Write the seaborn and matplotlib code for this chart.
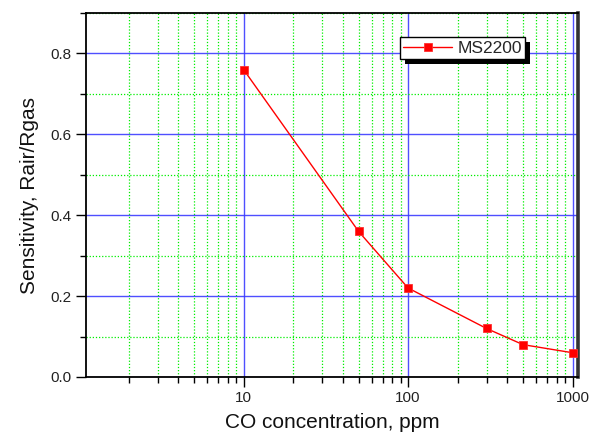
import matplotlib
matplotlib.use("Agg")
import matplotlib.pyplot as plt
import matplotlib.ticker as mticker
from matplotlib.patches import Rectangle
import seaborn as sns
import pandas as pd

concentration = [10, 50, 100, 300, 500, 1000]
sensitivity = [0.76, 0.36, 0.22, 0.12, 0.08, 0.06]
series_name = "MS2200"
x_label = "CO concentration, ppm"
y_label = "Sensitivity, Rair/Rgas"
y_ticks = [0.0, 0.2, 0.4, 0.6, 0.8]

df = pd.DataFrame({"x": concentration, "y": sensitivity, "series": series_name})

sns.set_style("white")
plt.rcParams["font.family"] = ["Liberation Sans", "DejaVu Sans"]

fig = plt.figure(figsize=(5.9, 4.37), dpi=100)
fig.subplots_adjust(left=86/590, right=578/590, top=1-13/437, bottom=1-377/437)
ax = fig.add_subplot(111)

ax.set_xscale("log")
sns.lineplot(data=df, x="x", y="y", hue="series", palette=["#ff0000"],
             marker="s", markersize=5.3, markeredgecolor="#ff3030",
             markeredgewidth=0.6, markerfacecolor="#ff0000", linewidth=1,
             ax=ax, zorder=5)

ax.set_xlim(1.1, 1080)
ax.set_ylim(0, 0.9)

ax.xaxis.set_major_locator(mticker.LogLocator(base=10, numticks=10))
ax.xaxis.set_minor_locator(mticker.LogLocator(base=10, subs=range(2, 10), numticks=20))
ax.xaxis.set_major_formatter(mticker.FuncFormatter(lambda v, p: f"{int(round(v))}"))
ax.xaxis.set_minor_formatter(mticker.NullFormatter())
ax.set_yticks(y_ticks)
ax.yaxis.set_minor_locator(mticker.MultipleLocator(0.1))
ax.yaxis.set_major_formatter(mticker.FormatStrFormatter("%.1f"))

ax.grid(which="major", color="#3c3cff", linewidth=1.0, linestyle="-", alpha=0.9)
ax.grid(which="minor", color="#00ee00", linewidth=0.9, linestyle=(0, (1, 1.5)))
ax.set_axisbelow(True)

ax.tick_params(axis="both", which="major", direction="out", length=7, width=1,
               labelsize=11, color="black", labelcolor="#222222",
               bottom=True, left=True, top=False, right=False)
ax.tick_params(axis="both", which="minor", direction="out", length=4, width=1,
               color="black", bottom=True, left=True, top=False, right=False)
ax.tick_params(axis="x", which="major", pad=3)

for s in ["left", "bottom", "top"]:
    ax.spines[s].set_color("black")
    ax.spines[s].set_linewidth(1.3)
ax.spines["right"].set_color("#333333")
ax.spines["right"].set_linewidth(2.6)

ax.set_xlabel(x_label, fontsize=15, labelpad=6, color="#111111")
ax.set_ylabel(y_label, fontsize=15, labelpad=8, color="#111111")

leg = ax.legend(loc="upper left", bbox_to_anchor=(0.638, 0.934), borderaxespad=0,
                fancybox=False, frameon=True, fontsize=12.5, handlelength=2.8,
                handletextpad=0.3, borderpad=0.2)
leg.get_frame().set_edgecolor("black")
leg.get_frame().set_linewidth(1.0)
leg.get_frame().set_alpha(1.0)
leg.set_zorder(10)

# black drop shadow offset from the legend frame
fig.canvas.draw()
bb = leg.get_frame().get_window_extent().transformed(fig.transFigure.inverted())
off_x, off_y = 5 / 590, 5 / 437
shadow = Rectangle((bb.x0 + off_x, bb.y0 - off_y), bb.width, bb.height,
                   transform=fig.transFigure, facecolor="black", edgecolor="none",
                   zorder=9)
ax.add_artist(shadow)
shadow.set_clip_on(False)

fig.savefig("out.png", dpi=100)
